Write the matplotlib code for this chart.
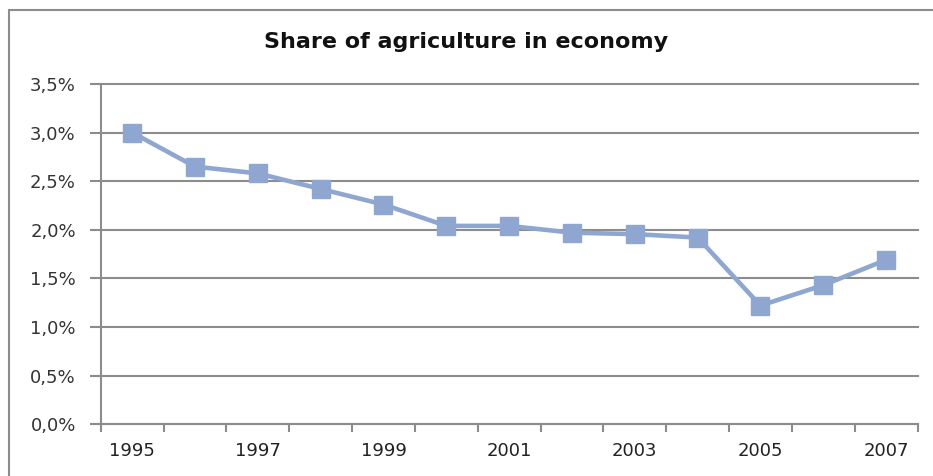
import numpy as np
import matplotlib.pyplot as plt
from matplotlib.patches import Rectangle

# data
years = [1995, 1996, 1997, 1998, 1999, 2000, 2001, 2002, 2003, 2004, 2005, 2006, 2007]
share = [3.00, 2.65, 2.58, 2.42, 2.26, 2.04, 2.04, 1.97, 1.955, 1.92, 1.22, 1.43, 1.69]
y_ticks = [0.0, 0.5, 1.0, 1.5, 2.0, 2.5, 3.0, 3.5]
y_labels = ['0,0%', '0,5%', '1,0%', '1,5%', '2,0%', '2,5%', '3,0%', '3,5%']
x_labels = ['1995', '1997', '1999', '2001', '2003', '2005', '2007']

GRID = '#8c8c8c'
LINE = '#8fa7d0'

fig = plt.figure(figsize=(9.33, 4.76), dpi=100)
ax = fig.add_axes([0.108, 0.109, 0.8754, 0.7145])

# chart area border (only top/left visible in the crop)
fig.patches.append(Rectangle((9 / 933, -0.1), 1.1, 1 - 10 / 476 + 0.1,
                             transform=fig.transFigure, fill=False,
                             edgecolor='#8c8c8c', linewidth=1.5))

idx = np.arange(len(years))
ax.plot(idx, share, color=LINE, linewidth=3.3, marker='s', markersize=13,
        markerfacecolor=LINE, markeredgecolor=LINE, zorder=3)

ax.set_xlim(-0.5, len(years) - 0.5)
ax.set_ylim(0, 3.5)

ax.set_yticks(y_ticks)
ax.set_yticklabels(y_labels, fontsize=13, color='#333333')
ax.yaxis.grid(True, color=GRID, linewidth=1.5, clip_on=False)
ax.set_axisbelow(True)

# ticks at category boundaries, labels at centres of every 2nd year
ax.set_xticks(np.arange(-0.5, len(years), 1.0))
ax.set_xticklabels([])
ax.set_xticks(idx[::2], minor=True)
ax.set_xticklabels(x_labels, minor=True, fontsize=13, color='#222222')
ax.tick_params(axis='x', which='major', length=6, color=GRID, width=1.5)
ax.tick_params(axis='x', which='minor', length=0, pad=13)
ax.tick_params(axis='y', length=8, color=GRID, width=1.5, pad=10)
for gl in ax.get_ygridlines():
    gl.set_clip_on(False)

for side in ['top', 'right']:
    ax.spines[side].set_visible(False)
for side in ['left', 'bottom']:
    ax.spines[side].set_color(GRID)
    ax.spines[side].set_linewidth(1.5)

fig.text(0.5, 1 - 42 / 476, 'Share of agriculture in economy', ha='center', va='center',
         fontsize=16, fontweight='bold', color='#111111')

fig.savefig('out.png', dpi=100)
